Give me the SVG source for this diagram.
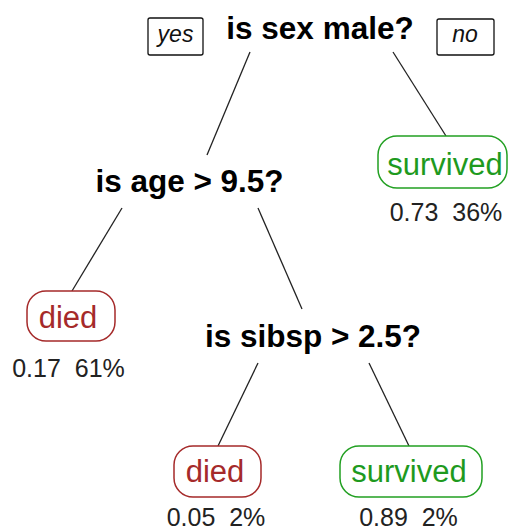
<svg xmlns="http://www.w3.org/2000/svg" width="512" height="532" viewBox="0 0 512 532">
<style>
text{font-family:"Liberation Sans",Arial,sans-serif;text-anchor:middle;white-space:pre}
.q{font-weight:bold;font-size:31.5px;fill:#000}
.lbl{font-size:31px}
.num{font-size:25px;fill:#222}
.yn{font-size:23px;font-style:italic;fill:#111}
.ynbox{fill:#fff;stroke:#111;stroke-width:1.3}
.died rect{fill:#fff;stroke:#a52a2a;stroke-width:1.5}
.died text.lbl{fill:#a52a2a}
.surv rect{fill:#fff;stroke:#22a022;stroke-width:1.5}
.surv text.lbl{fill:#1e9a1e}
#connectors line{stroke:#222;stroke-width:1.3}
</style>
<rect width="512" height="532" fill="#fff"/>
<g id="connectors">
<line x1="250" y1="52" x2="207" y2="155"/>
<line x1="393" y1="52" x2="446" y2="136"/>
<line x1="122" y1="208" x2="72" y2="291"/>
<line x1="258" y1="208" x2="302" y2="309"/>
<line x1="258" y1="363" x2="218" y2="446"/>
<line x1="369" y1="363" x2="409" y2="446"/>
</g>
<g id="yes"><rect class="ynbox" x="148" y="18" width="55" height="37" rx="2"/><text class="yn" x="175.5" y="42">yes</text></g>
<g id="no"><rect class="ynbox" x="437" y="19" width="57" height="36" rx="2"/><text class="yn" x="465" y="42">no</text></g>
<g id="root"><text class="q" x="320" y="39">is sex male?</text></g>
<g id="age"><text class="q" x="189.5" y="192">is age &gt; 9.5?</text></g>
<g id="sibsp"><text class="q" x="313" y="347">is sibsp &gt; 2.5?</text></g>
<g id="leaf-survived-1" class="surv"><rect x="378" y="136" width="129" height="52" rx="19"/><text class="lbl" x="445" y="175">survived</text><text class="num" x="446" y="221">0.73  36%</text></g>
<g id="leaf-died-1" class="died"><rect x="27" y="291" width="88" height="50" rx="19"/><text class="lbl" x="68" y="328">died</text><text class="num" x="68.5" y="377">0.17  61%</text></g>
<g id="leaf-died-2" class="died"><rect x="174" y="446" width="87" height="51" rx="19"/><text class="lbl" x="215" y="482">died</text><text class="num" x="216" y="526">0.05  2%</text></g>
<g id="leaf-survived-2" class="surv"><rect x="340" y="446" width="142" height="51" rx="19"/><text class="lbl" x="409" y="482">survived</text><text class="num" x="408.5" y="526">0.89  2%</text></g>
</svg>
